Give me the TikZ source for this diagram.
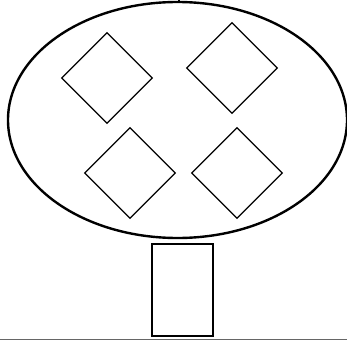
\documentclass[tikz,border=0pt]{standalone}
\usepackage{tikz}
\usetikzlibrary{positioning,shapes.geometric}
\tikzset{
  crown/.style={
    draw=black,
    ellipse,
    line width=2.4pt,
    minimum width=339pt,
    minimum height=236pt,
    inner sep=0pt
  },
  leaf/.style={
    draw=black,
    diamond,
    aspect=1,
    line width=1.2pt,
    minimum width=91pt,
    minimum height=91pt,
    inner sep=0pt
  },
  trunk/.style={
    draw=black,
    rectangle,
    line width=2pt,
    minimum width=61pt,
    minimum height=92pt,
    inner sep=0pt
  },
  line/.style={line width=1.6pt, draw=black},
  baseline/.style={line width=1pt, draw=black!60}
}

\begin{document}
\begin{tikzpicture}[x=1pt,y=-1pt]
\useasboundingbox (0,0) rectangle (347,340);
\node[crown] (tree) at (177.5,120) {};
\node[leaf] (leafa) at (107,78) {};
\node[leaf] (leafb) at (232,68) {};
\node[leaf] (leafc) at (130,173) {};
\node[leaf] (leafd) at (237,173) {};
\node[trunk] (stem) at (182.5,290) {};
\coordinate (top) at (179,-10);
\coordinate (groundl) at (0,339);
\coordinate (groundr) at (347,339);

\draw[line] (tree.north -| top) -- (top);
\draw[baseline] (groundl) -- (groundr);
\end{tikzpicture}
\end{document}
